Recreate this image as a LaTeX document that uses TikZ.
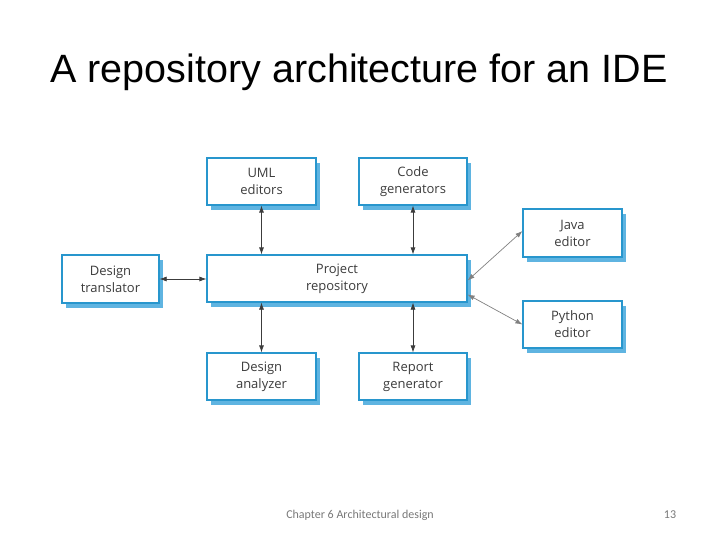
\documentclass[tikz,border=0pt]{standalone}
\usepackage{fontspec}
\setmainfont{Liberation Sans}
\newfontfamily\boxfont{Open Sans}
\newfontfamily\footfont{Carlito}
\usepackage{tikz}
\usetikzlibrary{shadows,arrows.meta}
\definecolor{boxBlue}{RGB}{40,150,205}
\definecolor{shadowBlue}{RGB}{95,180,225}
\definecolor{textGray}{RGB}{60,60,60}
\definecolor{footGray}{RGB}{120,120,120}

\begin{document}
\begin{tikzpicture}[x=1pt,y=-1pt,
    comp/.style={draw=boxBlue,line width=1.2pt,fill=white,align=center,
      text=textGray,font=\boxfont\fontsize{13}{17}\selectfont,
      inner sep=0pt,
      copy shadow={shadow xshift=4pt,shadow yshift=-5pt,draw=none,fill=shadowBlue}},
    link/.style={draw=textGray,line width=0.7pt,{Latex[length=7pt,width=5pt]}-{Latex[length=7pt,width=5pt]}},
    softlink/.style={link,draw=gray}]

  \useasboundingbox (0,0) rectangle (720,540);

  % title and footer
  \node[font=\fontsize{39.5}{44}\selectfont,anchor=base] (title) at (359,83) {A repository architecture for an IDE};
  \node[font=\footfont\fontsize{12}{14}\selectfont,text=footGray] (chapter) at (360,515) {Chapter 6 Architectural design};
  \node[font=\footfont\fontsize{12}{14}\selectfont,text=footGray] (page) at (670,515) {13};

  % tools round the repository
  \node[comp,minimum width=109pt,minimum height=47pt] (uml) at (261.5,181.5) {UML\\editors};
  \node[comp,minimum width=108pt,minimum height=47pt] (code) at (413,181.5) {Code\\generators};
  \node[comp,minimum width=260pt,minimum height=47pt] (repo) at (337,278.5) {Project\\repository};
  \node[comp,minimum width=97pt,minimum height=48pt] (trans) at (110.5,279) {Design\\translator};
  \node[comp,minimum width=99pt,minimum height=48pt] (java) at (572.5,233) {Java\\editor};
  \node[comp,minimum width=99pt,minimum height=47pt] (python) at (572.5,324.5) {Python\\editor};
  \node[comp,minimum width=109pt,minimum height=47pt] (analyzer) at (261.5,376.5) {Design\\analyzer};
  \node[comp,minimum width=108pt,minimum height=47pt] (report) at (413,376.5) {Report\\generator};

  % connectors
  \draw[link] (uml.south) -- (uml.south |- repo.north);
  \draw[link] (code.south) -- (code.south |- repo.north);
  \draw[link] (analyzer.north) -- (analyzer.north |- repo.south);
  \draw[link] (report.north) -- (report.north |- repo.south);
  \draw[link] (trans.east) -- (trans.east -| repo.west);
  \draw[softlink] ([yshift=-2pt]repo.east) -- ([yshift=2pt]java.west);
  \draw[softlink] ([yshift=-16pt]repo.east) -- (python.west);

\end{tikzpicture}
\end{document}
